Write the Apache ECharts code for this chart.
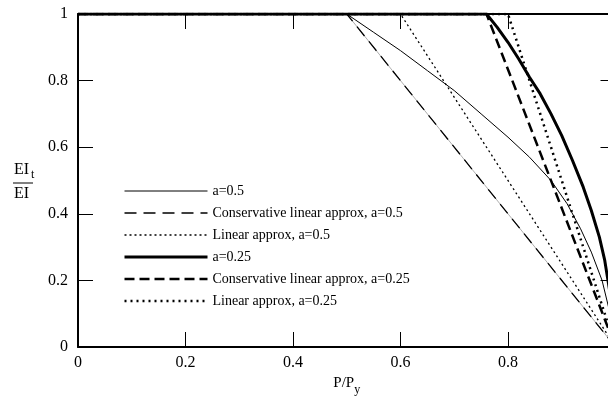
<!DOCTYPE html>
<html>
<head>
<meta charset="utf-8">
<script src="https://cdn.jsdelivr.net/npm/echarts@6/dist/echarts.min.js"></script>
<style>
  html, body { margin: 0; padding: 0; background: #fff; }
  #chart { width: 608px; height: 396px; }
</style>
</head>
<body>
<div id="chart"></div>
<script>
// a = 0.5, exact curve
const a05X = [0, 0.5, 0.55, 0.6, 0.65, 0.7, 0.75, 0.8, 0.84, 0.88, 0.91, 0.935, 0.955, 0.975, 0.99, 1];
const a05Y = [1, 1, 0.945, 0.89, 0.83, 0.77, 0.7, 0.63, 0.57, 0.5, 0.43, 0.355, 0.285, 0.2, 0.1, 0];
// conservative linear approx, a = 0.5
const cons05X = [0, 0.5, 1];
const cons05Y = [1, 1, 0];
// linear approx, a = 0.5
const lin05X = [0, 0.6, 1];
const lin05Y = [1, 1, 0];
// a = 0.25, exact curve
const a025X = [0, 0.76, 0.78, 0.8, 0.82, 0.84, 0.86, 0.88, 0.9, 0.92, 0.94, 0.955, 0.97, 0.98, 0.99, 1];
const a025Y = [1, 1, 0.96, 0.915, 0.865, 0.81, 0.76, 0.7, 0.635, 0.56, 0.48, 0.41, 0.33, 0.26, 0.16, 0];
// conservative linear approx, a = 0.25
const cons025X = [0, 0.76, 1];
const cons025Y = [1, 1, 0];
// linear approx, a = 0.25
const lin025X = [0, 0.8, 1];
const lin025Y = [1, 1, 0];

const names = [
  "a=0.5",
  "Conservative linear approx, a=0.5",
  "Linear approx, a=0.5",
  "a=0.25",
  "Conservative linear approx, a=0.25",
  "Linear approx, a=0.25",
];
// line look of each series: [width, dash]
const looks = [
  [1, "solid"],
  [1.3, [12, 7]],
  [1.3, [2, 3]],
  [3, "solid"],
  [2.5, [10, 5]],
  [2.5, [2, 4]],
];

const pairs = (xs, ys) => xs.map((x, i) => [x, ys[i]]);
const FONT = "'Liberation Serif', 'DejaVu Serif', serif";

const chart = echarts.init(document.getElementById("chart"));

function line(name, data, look, color) {
  return {
    name: name,
    type: "line",
    data: data,
    symbol: "none",
    animation: false,
    silent: true,
    color: color || "#000",
    itemStyle: { color: color || "#000" },
    lineStyle: { color: color || "#000", width: look[0], type: look[1] },
  };
}

const axisCommon = {
  type: "value",
  min: 0,
  max: 1,
  interval: 0.2,
  splitLine: { show: false },
  axisLine: { show: true, onZero: false, lineStyle: { color: "#000", width: 2 } },
  axisTick: { show: true, inside: true, length: 15, lineStyle: { color: "#000", width: 1 } },
};

const option = {
  backgroundColor: "#fff",
  animation: false,
  // the plot runs past the right edge of the picture (x = 1 sits off-canvas)
  grid: { left: 78, width: 537.5, top: 14, bottom: 49, containLabel: false, outerBoundsMode: "none" },
  legend: {
    orient: "vertical",
    left: 123,
    top: 184,
    itemWidth: 83,
    itemHeight: 14,
    itemGap: 8,
    padding: 0,
    data: names.map((n, i) => ({
      name: n,
      lineStyle: { color: "#000", width: looks[i][0], type: looks[i][1] },
    })),
    itemStyle: { opacity: 0, borderWidth: 0 },
    textStyle: { fontFamily: FONT, fontSize: 14, color: "#000" },
    selectedMode: false,
  },
  xAxis: [
    Object.assign({}, axisCommon, {
      position: "bottom",
      name: "P/P{s|y}",
      nameLocation: "middle",
      nameGap: 28,
      nameTextStyle: {
        fontFamily: FONT, fontSize: 15, color: "#000",
        rich: { s: { fontFamily: FONT, fontSize: 12, color: "#000", verticalAlign: "bottom", padding: [0, 0, -5, 0] } },
      },
      axisLabel: { fontFamily: FONT, fontSize: 16, color: "#000", margin: 8 },
    }),
    Object.assign({}, axisCommon, {
      position: "top",
      axisLabel: { show: false },
    }),
  ],
  yAxis: [
    Object.assign({}, axisCommon, {
      position: "left",
      axisLabel: { fontFamily: FONT, fontSize: 16, color: "#000", margin: 10 },
    }),
    Object.assign({}, axisCommon, {
      position: "right",
      axisLabel: { show: false },
    }),
  ],
  graphic: [
    {
      type: "text", left: 14, top: 162,
      style: { text: "EI", font: "16px " + FONT, fill: "#000" },
    },
    {
      type: "text", left: 31, top: 169,
      style: { text: "t", font: "12px " + FONT, fill: "#000" },
    },
    {
      type: "line",
      shape: { x1: 13, y1: 183, x2: 33, y2: 183 },
      style: { stroke: "#000", lineWidth: 1 },
    },
    {
      type: "text", left: 14, top: 186,
      style: { text: "EI", font: "16px " + FONT, fill: "#000" },
    },
  ],
  series: [
    // light under-line of the conservative a=0.5 dash
    line("", pairs(cons05X, cons05Y), [0.8, "solid"], "#999"),
    line(names[0], pairs(a05X, a05Y), looks[0]),
    line(names[1], pairs(cons05X, cons05Y), looks[1]),
    line(names[2], pairs(lin05X, lin05Y), looks[2]),
    line(names[3], pairs(a025X, a025Y), looks[3]),
    line(names[4], pairs(cons025X, cons025Y), looks[4]),
    line(names[5], pairs(lin025X, lin025Y), looks[5]),
  ],
};

chart.setOption(option);
</script>
</body>
</html>
